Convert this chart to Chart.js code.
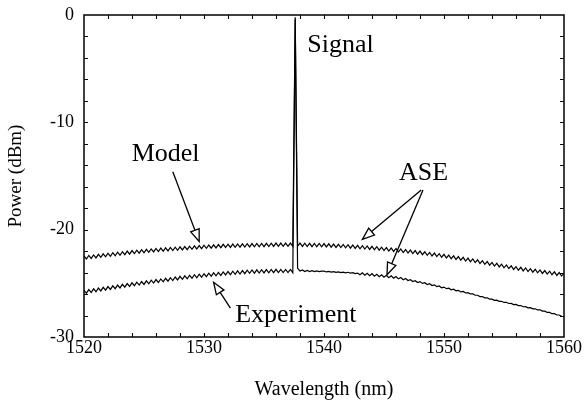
<!DOCTYPE html>
<html>
<head>
<meta charset="utf-8">
<script src="https://cdn.jsdelivr.net/npm/chart.js@4.4.0/dist/chart.umd.min.js"></script>
<style>
  html, body { margin: 0; padding: 0; background: #fff; }
</style>
</head>
<body>
<canvas id="myChart" width="584" height="410"></canvas>
<script>
// Wavelength sample points (nm)
const wavelength = [
  1520.0,1520.2,1520.4,1520.6,1520.8,1521.0,1521.2,1521.4,1521.6,1521.8,
  1522.0,1522.2,1522.4,1522.6,1522.8,1523.0,1523.2,1523.4,1523.6,1523.8,
  1524.0,1524.2,1524.4,1524.6,1524.8,1525.0,1525.2,1525.4,1525.6,1525.8,
  1526.0,1526.2,1526.4,1526.6,1526.8,1527.0,1527.2,1527.4,1527.6,1527.8,
  1528.0,1528.2,1528.4,1528.6,1528.8,1529.0,1529.2,1529.4,1529.6,1529.8,
  1530.0,1530.2,1530.4,1530.6,1530.8,1531.0,1531.2,1531.4,1531.6,1531.8,
  1532.0,1532.2,1532.4,1532.6,1532.8,1533.0,1533.2,1533.4,1533.6,1533.8,
  1534.0,1534.2,1534.4,1534.6,1534.8,1535.0,1535.2,1535.4,1535.6,1535.8,
  1536.0,1536.2,1536.4,1536.6,1536.8,1537.0,1537.2,1537.4,1537.6,1537.8,
  1538.0,1538.2,1538.4,1538.6,1538.8,1539.0,1539.2,1539.4,1539.6,1539.8,
  1540.0,1540.2,1540.4,1540.6,1540.8,1541.0,1541.2,1541.4,1541.6,1541.8,
  1542.0,1542.2,1542.4,1542.6,1542.8,1543.0,1543.2,1543.4,1543.6,1543.8,
  1544.0,1544.2,1544.4,1544.6,1544.8,1545.0,1545.2,1545.4,1545.6,1545.8,
  1546.0,1546.2,1546.4,1546.6,1546.8,1547.0,1547.2,1547.4,1547.6,1547.8,
  1548.0,1548.2,1548.4,1548.6,1548.8,1549.0,1549.2,1549.4,1549.6,1549.8,
  1550.0,1550.2,1550.4,1550.6,1550.8,1551.0,1551.2,1551.4,1551.6,1551.8,
  1552.0,1552.2,1552.4,1552.6,1552.8,1553.0,1553.2,1553.4,1553.6,1553.8,
  1554.0,1554.2,1554.4,1554.6,1554.8,1555.0,1555.2,1555.4,1555.6,1555.8,
  1556.0,1556.2,1556.4,1556.6,1556.8,1557.0,1557.2,1557.4,1557.6,1557.8,
  1558.0,1558.2,1558.4,1558.6,1558.8,1559.0,1559.2,1559.4,1559.6,1559.8,
  1560.0
];

// Model spectrum (dBm)
const model = [
  -22.45,-22.73,-22.40,-22.68,-22.35,-22.63,-22.30,-22.58,-22.25,-22.53,
  -22.20,-22.48,-22.15,-22.43,-22.10,-22.38,-22.05,-22.33,-22.00,-22.28,
  -21.95,-22.23,-21.91,-22.19,-21.87,-22.15,-21.83,-22.11,-21.79,-22.07,
  -21.75,-22.04,-21.72,-22.01,-21.69,-21.98,-21.66,-21.95,-21.63,-21.92,
  -21.60,-21.89,-21.57,-21.86,-21.54,-21.83,-21.51,-21.80,-21.48,-21.77,
  -21.45,-21.74,-21.43,-21.72,-21.41,-21.70,-21.39,-21.68,-21.37,-21.66,
  -21.35,-21.65,-21.34,-21.64,-21.33,-21.63,-21.32,-21.62,-21.31,-21.61,
  -21.30,-21.60,-21.29,-21.59,-21.28,-21.58,-21.27,-21.57,-21.26,-21.56,
  -21.25,-21.55,-21.25,-21.55,-21.25,-21.55,-21.25,-21.55,-0.20,-21.55,
  -21.25,-21.56,-21.26,-21.57,-21.27,-21.58,-21.28,-21.59,-21.29,-21.60,
  -21.30,-21.61,-21.32,-21.63,-21.34,-21.65,-21.36,-21.67,-21.38,-21.69,
  -21.40,-21.72,-21.43,-21.75,-21.46,-21.78,-21.49,-21.81,-21.52,-21.84,
  -21.55,-21.87,-21.59,-21.91,-21.63,-21.95,-21.67,-21.99,-21.71,-22.03,
  -21.75,-22.08,-21.80,-22.13,-21.85,-22.18,-21.90,-22.23,-21.95,-22.28,
  -22.00,-22.33,-22.06,-22.39,-22.12,-22.45,-22.18,-22.51,-22.24,-22.57,
  -22.30,-22.64,-22.37,-22.71,-22.44,-22.78,-22.51,-22.85,-22.58,-22.92,
  -22.65,-22.99,-22.73,-23.07,-22.81,-23.15,-22.89,-23.23,-22.97,-23.31,
  -23.05,-23.39,-23.13,-23.47,-23.21,-23.55,-23.29,-23.63,-23.37,-23.71,
  -23.45,-23.78,-23.51,-23.84,-23.57,-23.90,-23.63,-23.96,-23.69,-24.02,
  -23.75,-24.08,-23.81,-24.14,-23.87,-24.20,-23.93,-24.26,-23.99,-24.32,
  -24.05
];

// Measured spectrum (dBm)
const experiment = [
  -25.65,-25.92,-25.58,-25.85,-25.51,-25.78,-25.44,-25.71,-25.37,-25.64,
  -25.30,-25.57,-25.23,-25.50,-25.16,-25.43,-25.09,-25.36,-25.02,-25.29,
  -24.95,-25.22,-24.89,-25.16,-24.83,-25.10,-24.77,-25.04,-24.71,-24.98,
  -24.65,-24.92,-24.59,-24.86,-24.53,-24.80,-24.47,-24.74,-24.41,-24.68,
  -24.35,-24.63,-24.30,-24.58,-24.25,-24.53,-24.20,-24.48,-24.15,-24.43,
  -24.10,-24.38,-24.06,-24.34,-24.02,-24.30,-23.98,-24.26,-23.94,-24.22,
  -23.90,-24.19,-23.87,-24.16,-23.84,-24.13,-23.81,-24.10,-23.78,-24.07,
  -23.75,-24.05,-23.74,-24.04,-23.73,-24.03,-23.72,-24.02,-23.71,-24.01,
  -23.70,-24.00,-23.70,-24.00,-23.70,-24.00,-23.70,-24.00,-0.40,-23.60,
  -23.85,-23.75,-23.90,-23.80,-23.90,-23.82,-23.90,-23.84,-23.90,-23.86,
  -23.87,-23.94,-23.89,-23.96,-23.91,-23.98,-23.93,-24.00,-23.95,-24.02,
  -23.97,-24.05,-24.01,-24.09,-24.05,-24.20,-24.02,-24.24,-24.06,-24.28,
  -24.10,-24.33,-24.15,-24.38,-24.20,-24.43,-24.25,-24.48,-24.30,-24.53,
  -24.37,-24.58,-24.46,-24.67,-24.55,-24.74,-24.66,-24.83,-24.75,-24.92,
  -24.84,-25.01,-24.94,-25.11,-25.04,-25.21,-25.14,-25.31,-25.24,-25.41,
  -25.35,-25.50,-25.45,-25.60,-25.55,-25.70,-25.65,-25.80,-25.75,-25.90,
  -25.87,-25.99,-25.99,-26.11,-26.11,-26.23,-26.23,-26.35,-26.35,-26.47,
  -26.47,-26.58,-26.57,-26.68,-26.67,-26.78,-26.77,-26.88,-26.87,-26.98,
  -26.97,-27.08,-27.07,-27.18,-27.17,-27.28,-27.27,-27.38,-27.37,-27.48,
  -27.47,-27.59,-27.59,-27.71,-27.71,-27.83,-27.83,-27.95,-27.95,-28.07,
  -28.10
];

// Text labels and arrows, in data coordinates
const labels = [
  { text: 'Signal', x: 1538.6, y: -2.8, align: 'left' },
  { text: 'Model', x: 1526.8, y: -13.0, align: 'center' },
  { text: 'ASE', x: 1548.3, y: -14.7, align: 'center' },
  { text: 'Experiment', x: 1532.6, y: -27.95, align: 'left' }
];
const arrows = [
  { from: [1527.4, -14.6], to: [1529.6, -21.1] },
  { from: [1532.2, -27.3], to: [1530.8, -24.9] },
  { from: [1548.1, -16.3], to: [1543.2, -20.9] },
  { from: [1548.25, -16.3], to: [1545.25, -24.2] }
];

const serif = '"Liberation Serif", "Times New Roman", serif';

function drawArrow(ctx, x0, y0, x1, y1) {
    const ang = Math.atan2(y1 - y0, x1 - x0);
    const len = 12, half = 4.5;
    const bx = x1 - len * Math.cos(ang), by = y1 - len * Math.sin(ang);
    ctx.beginPath();
    ctx.moveTo(x0, y0);
    ctx.lineTo(bx, by);
    ctx.stroke();
    ctx.beginPath();
    ctx.moveTo(x1, y1);
    ctx.lineTo(bx + half * Math.sin(ang), by - half * Math.cos(ang));
    ctx.lineTo(bx - half * Math.sin(ang), by + half * Math.cos(ang));
    ctx.closePath();
    ctx.fillStyle = '#fff';
    ctx.fill();
    ctx.stroke();
}

// Box frame, inward ticks and annotations
const decorations = {
    id: 'decorations',
    afterDatasetsDraw(chart) {
        const { ctx, chartArea: a, scales: { x, y } } = chart;
        ctx.save();
        ctx.strokeStyle = '#000';
        ctx.lineWidth = 1;
        ctx.beginPath();
        for (let v = 1522; v < 1560; v += 2) {
            const px = Math.round(x.getPixelForValue(v)) + 0.5;
            ctx.moveTo(px, a.bottom); ctx.lineTo(px, a.bottom - 4);
            ctx.moveTo(px, a.top); ctx.lineTo(px, a.top + 4);
        }
        for (let v = -28; v < 0; v += 2) {
            const py = Math.round(y.getPixelForValue(v)) + 0.5;
            ctx.moveTo(a.left, py); ctx.lineTo(a.left + 4, py);
            ctx.moveTo(a.right, py); ctx.lineTo(a.right - 4, py);
        }
        ctx.stroke();
        ctx.lineWidth = 1.5;
        ctx.strokeRect(a.left, a.top, a.right - a.left, a.bottom - a.top);

        ctx.lineWidth = 1.3;
        arrows.forEach(ar => {
            drawArrow(ctx,
                x.getPixelForValue(ar.from[0]), y.getPixelForValue(ar.from[1]),
                x.getPixelForValue(ar.to[0]), y.getPixelForValue(ar.to[1]));
        });

        ctx.fillStyle = '#000';
        ctx.font = '26px ' + serif;
        ctx.textBaseline = 'middle';
        labels.forEach(l => {
            ctx.textAlign = l.align;
            ctx.fillText(l.text, x.getPixelForValue(l.x), y.getPixelForValue(l.y));
        });
        ctx.restore();
    }
};

function points(values) {
    return values.map((v, i) => ({ x: wavelength[i], y: v }));
}

const ctx = document.getElementById('myChart').getContext('2d');
new Chart(ctx, {
    type: 'line',
    data: {
        datasets: [
            { label: 'Model', data: points(model), borderColor: '#000', borderWidth: 1.2, pointRadius: 0, tension: 0 },
            { label: 'Experiment', data: points(experiment), borderColor: '#000', borderWidth: 1.2, pointRadius: 0, tension: 0 }
        ]
    },
    options: {
        responsive: false,
        animation: false,
        events: [],
        layout: { padding: { left: 0, right: 20, top: 15, bottom: 0 } },
        plugins: { legend: { display: false }, tooltip: { enabled: false } },
        scales: {
            x: {
                type: 'linear',
                min: 1520, max: 1560,
                afterFit: s => { s.height = 73; s.paddingLeft = 0; s.paddingRight = 0; },
                grid: { display: false, drawTicks: false },
                border: { display: false },
                ticks: { stepSize: 10, padding: 0, color: '#000', font: { family: serif, size: 18 }, maxRotation: 0,
                         callback: v => String(v) },
                title: { display: true, text: 'Wavelength (nm)', color: '#000', font: { family: serif, size: 20 }, padding: { top: 0, bottom: 8 } }
            },
            y: {
                min: -30, max: 0,
                afterFit: s => { s.width = 84; s.paddingTop = 0; s.paddingBottom = 0; },
                grid: { display: false, drawTicks: false },
                border: { display: false },
                ticks: { stepSize: 10, padding: 10, color: '#000', font: { family: serif, size: 18 } },
                title: { display: true, text: 'Power (dBm)', color: '#000', font: { family: serif, size: 19 }, padding: { top: 5, bottom: 0 } }
            }
        }
    },
    plugins: [decorations]
});
</script>
</body>
</html>
